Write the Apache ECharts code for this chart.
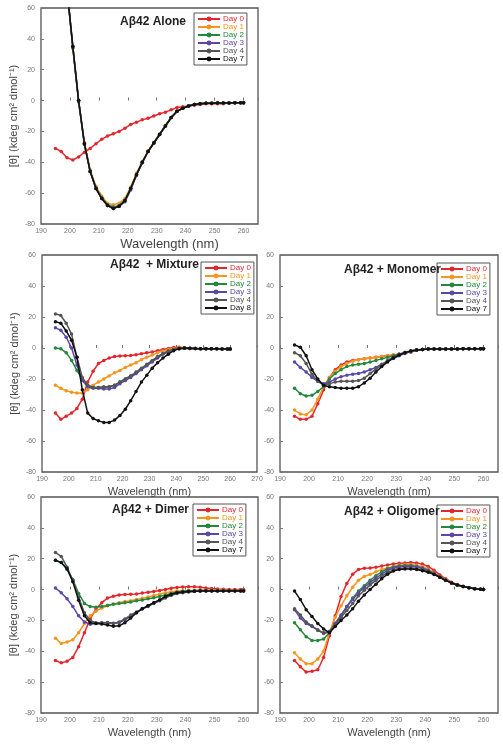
<!DOCTYPE html>
<html><head><meta charset="utf-8">
<script src="https://cdn.jsdelivr.net/npm/echarts@6/dist/echarts.min.js"></script>
<style>html,body{margin:0;padding:0;background:#fff}#c{width:503px;height:750px}</style>
</head><body><div id="c"></div>
<script>
// Wavelengths (nm)
const wl = [195,197,199,201,203,205,207,209,211,213,215,217,219,221,223,225,227,229,231,233,235,237,239,241,243,245,247,249,251,253,255,257,259,260];
const xTicks = [190,200,210,220,230,240,250,260,270];
const yTicks = [-80,-60,-40,-20,0,20,40,60];
const dayNames = ['Day 0','Day 1','Day 2','Day 3','Day 4','Day 7'];
const dayNamesMix = ['Day 0','Day 1','Day 2','Day 3','Day 4','Day 8'];

// Aβ42 Alone
const alone_d0 = [-31,-33,-37,-38.5,-36.5,-33.5,-31,-28,-25,-23,-21.5,-20,-18,-15.5,-14,-12.5,-11.5,-10,-8.5,-7.5,-6,-4.5,-4,-3.5,-3,-2.5,-2,-2,-2,-2,-1.5,-1.5,-1.5,-1.5];
const alone_d1 = [138,106,71,34,0,-27,-45,-55.5,-62,-66.5,-67.5,-66.5,-63.5,-56,-47,-39.5,-32.5,-27,-21.5,-16,-11,-7,-5,-3.5,-2.5,-2,-1.8,-1.7,-1.6,-1.5,-1.5,-1.4,-1.4,-1.4];
const alone_d2 = [142,110,73,34,-1,-28.5,-46,-56.5,-63,-67.5,-69,-68,-64.5,-57,-48,-40,-33,-27.5,-22,-16.5,-11,-7,-5,-3.5,-2.5,-2,-1.8,-1.7,-1.6,-1.5,-1.5,-1.4,-1.4,-1.4];
const alone_d3 = [140,108,72,35,0,-28,-46,-57,-63.5,-68,-69.5,-68.5,-65.5,-58,-48.5,-40.5,-33,-27.5,-22,-16.5,-11,-7,-5,-3.5,-2.5,-2,-1.8,-1.7,-1.6,-1.5,-1.5,-1.4,-1.4,-1.4];
const alone_d4 = [141,109,72,35,0,-28,-46,-57,-63.5,-68,-70,-68.5,-65,-57,-48,-40,-33,-27.5,-22,-16.5,-11,-7,-5,-3.5,-2.5,-2,-1.8,-1.7,-1.6,-1.5,-1.5,-1.4,-1.4,-1.4];
const alone_d7 = [140,108,72,35,0,-28,-46,-57,-63.5,-68,-70,-68.5,-65,-57,-48,-40,-33,-27.5,-22,-16.5,-11,-7,-5,-3.5,-2.5,-2,-1.8,-1.7,-1.6,-1.5,-1.5,-1.4,-1.4,-1.4];

// Aβ42 + Mixture
const mix_d0 = [-42,-46,-44,-42,-39,-33,-22,-15,-10,-8,-6.5,-5.5,-5.2,-5,-4.8,-4.3,-3.7,-3,-2.5,-1.8,-1,-0.3,0.3,0.5,0.2,-0.2,-0.4,-0.5,-0.5,-0.5,-0.5,-0.6,-0.6,-0.6];
const mix_d1 = [-24,-26,-27.5,-28.5,-29,-29,-27,-24,-22,-20,-18,-16,-14.5,-12.5,-11,-9.5,-7.5,-6,-4.5,-3,-2,-1,-0.5,0,0,-0.3,-0.4,-0.5,-0.5,-0.5,-0.5,-0.6,-0.6,-0.6];
const mix_d2 = [0,-0.5,-3,-8,-14.5,-20,-24,-25.5,-25.5,-25.5,-25,-24,-22,-20,-18,-16,-13.5,-11,-8.5,-6,-3.5,-2,-1,-0.3,0,-0.3,-0.4,-0.5,-0.5,-0.5,-0.5,-0.6,-0.6,-0.6];
const mix_d3 = [13,11.5,7,0,-11,-21,-25,-26,-26,-26.5,-26.5,-25.5,-23,-21,-19,-16.5,-14,-11.5,-9,-6.5,-4,-2.5,-1.2,-0.5,-0.2,-0.3,-0.4,-0.5,-0.5,-0.5,-0.5,-0.6,-0.6,-0.6];
const mix_d4 = [22,21,16,9,-6,-19,-24,-25.5,-25.5,-25,-25,-24,-22,-20,-18,-15.5,-13,-10.5,-8,-5.5,-3.5,-2,-1,-0.4,-0.2,-0.3,-0.4,-0.5,-0.5,-0.5,-0.5,-0.6,-0.6,-0.6];
const mix_d8 = [17,16,11,5,-6,-27,-42,-45.5,-47,-48,-48,-46.5,-43.5,-39.5,-34,-28,-22,-17.5,-13,-9.5,-6.5,-4,-1.7,-0.5,0,-0.2,-0.4,-0.5,-0.5,-0.5,-0.5,-0.6,-0.6,-0.6];

// Aβ42 + Monomer
const mono_d0 = [-44,-46,-46,-44,-36,-27,-19,-14,-11,-9,-8,-7.5,-7,-6.5,-6,-5.5,-5,-4.5,-4,-3,-2.5,-1.5,-1,-0.7,-0.7,-0.7,-0.7,-0.6,-0.6,-0.5,-0.5,-0.5,-0.5,-0.5];
const mono_d1 = [-40,-42.5,-43,-40,-33,-25,-19,-15,-12,-10,-8.5,-7.5,-7,-6.5,-6,-5.5,-5,-4.5,-4,-3.2,-2.5,-1.5,-1,-0.7,-0.7,-0.7,-0.7,-0.6,-0.6,-0.5,-0.5,-0.5,-0.5,-0.5];
const mono_d2 = [-26,-29.5,-31,-30.5,-28,-25,-20,-16.5,-14,-12,-11,-10.5,-10,-9,-8,-7,-6,-5,-4,-3.2,-2.5,-1.5,-1,-0.7,-0.7,-0.7,-0.7,-0.6,-0.6,-0.5,-0.5,-0.5,-0.5,-0.5];
const mono_d3 = [-9,-12.5,-15.5,-19,-21.5,-23,-22,-20,-18.5,-17.5,-17,-16.5,-15.5,-14,-12.5,-10.5,-8.5,-6.8,-5,-3.5,-2.3,-1.5,-1,-0.7,-0.7,-0.7,-0.7,-0.6,-0.6,-0.5,-0.5,-0.5,-0.5,-0.5];
const mono_d4 = [-3,-5,-10,-17,-21.5,-24,-23,-22,-21.5,-21.5,-21.5,-21,-19.5,-16.5,-13.5,-11,-8,-5.8,-4,-2.8,-1.8,-1.2,-0.9,-0.7,-0.7,-0.7,-0.7,-0.6,-0.6,-0.5,-0.5,-0.5,-0.5,-0.5];
const mono_d7 = [2,0.5,-5,-14,-20,-24,-25,-25.5,-26,-26,-26,-25,-22.5,-19.5,-15.5,-12,-9,-6.5,-4.5,-3,-2,-1.3,-1,-0.7,-0.7,-0.7,-0.7,-0.6,-0.6,-0.5,-0.5,-0.5,-0.5,-0.5];

// Aβ42 + Dimer
const dim_d0 = [-46,-47.5,-46.5,-44,-37,-28,-19,-12.5,-8.5,-5.5,-4.3,-3.5,-3.2,-3,-2.8,-2.3,-1.8,-1.2,-0.6,0,0.8,1.3,1.6,1.8,1.8,1.5,1,0.7,0.4,0.2,0,0,0,0];
const dim_d1 = [-31.5,-35,-34,-32.5,-28,-22,-17,-14,-12,-10.5,-9.3,-8.5,-7.8,-7.2,-6.5,-5.7,-4.8,-3.8,-3,-2,-1.4,-1,-0.8,-0.6,-0.5,-0.5,-0.5,-0.5,-0.5,-0.5,-0.5,-0.5,-0.5,-0.5];
const dim_d2 = [19,17.5,13,6.5,-2.5,-9,-11,-11.5,-11,-10.3,-9.5,-9,-8.5,-8,-7.3,-6.7,-6,-5.3,-4.5,-3.5,-2.5,-1.6,-1.1,-0.8,-0.7,-0.6,-0.6,-0.6,-0.6,-0.6,-0.6,-0.6,-0.6,-0.6];
const dim_d3 = [1,-2,-6,-11,-17,-21,-22.5,-22,-21.5,-21.3,-21.8,-21.5,-19.5,-17.5,-15,-12.5,-10.5,-8.5,-6.7,-5,-3.3,-2.2,-1.6,-1.2,-1,-0.9,-0.8,-0.8,-0.8,-0.8,-0.8,-0.8,-0.8,-0.8];
const dim_d4 = [24,21.5,14.5,6,-5,-15,-20,-21.5,-21.5,-21.5,-22,-21,-19,-16.5,-14.5,-12.5,-11,-9,-7.3,-5.5,-3.8,-2.6,-2,-1.5,-1.2,-1,-1,-1,-1,-1,-1,-1,-1,-1];
const dim_d7 = [19,17.5,13.5,5,-7,-17,-21.5,-22,-22.3,-23,-23.8,-23.5,-21.5,-18.5,-15,-12.5,-10.5,-8.5,-6.7,-4.5,-3,-2,-1.5,-1.2,-1.1,-1,-1,-1,-1,-1,-1,-1,-1,-1];

// Aβ42 + Oligomer
const olig_d0 = [-46,-50,-53.5,-53,-52,-44,-30,-17,-4.5,4,10,13,13.8,14,14.5,15.2,16,16.5,17,17.3,17.5,17.3,16.5,15,12.5,9.5,7,4.8,3.3,2,1.2,0.6,0.2,0];
const olig_d1 = [-41,-45,-48,-48,-45,-40,-28,-18,-10.5,-4,1.5,6,8.5,9.8,11.5,13,14,15,15.8,16.2,16.2,15.8,15,13.3,11,8.5,6.5,4.5,3.2,2,1.2,0.6,0.2,0];
const olig_d2 = [-21.5,-26,-30.5,-33,-33,-32,-28,-22,-17,-11,-5.5,-1,2.5,6,9,11.5,13.5,14.7,15.3,15.6,15.6,15,14,12.5,10.5,8,6,4.3,3,2,1.2,0.6,0.2,0];
const olig_d3 = [-13,-18.5,-22,-24,-26,-28.5,-27.5,-22,-16.5,-11,-6.5,-2,1.5,4.5,7.5,10,12.5,14,14.8,15.1,15.1,14.6,13.8,12.3,10.5,8,6,4.3,3,2,1.2,0.6,0.2,0];
const olig_d4 = [-12.5,-16.5,-21,-23.5,-26.5,-28,-27,-23,-18,-13.5,-9,-4,-0.5,3,6,8.8,11,12.8,13.6,14,14,13.5,12.8,11.8,10,8,6,4.3,3,2,1.2,0.6,0.2,0];
const olig_d7 = [-1,-6.5,-13,-17.5,-22,-25.5,-28,-24,-20,-16.5,-12.5,-7.5,-3.5,0,3.5,7,10,12,13,13.4,13.4,13,12.2,11.2,9.8,8,6,4.3,3,2,1.2,0.6,0.2,0];

const colors = ['#e3262d','#f7941e','#22883c','#5b47a8','#555555','#111111'];

const panels = [
  {title:'Aβ42 Alone', grid:{left:41,top:8,width:217,height:216}, xmax:265, yname:true, names:dayNames,
   data:[alone_d0,alone_d1,alone_d2,alone_d3,alone_d4,alone_d7], tpos:[120,16], lpos:[194,13], xnameSize:13, xnameShift:40},
  {title:'Aβ42  + Mixture', grid:{left:42,top:255,width:215,height:217}, xmax:270, yname:true, names:dayNamesMix,
   data:[mix_d0,mix_d1,mix_d2,mix_d3,mix_d4,mix_d8], tpos:[110,259], lpos:[201,262], xnameSize:11, xnameShift:0},
  {title:'Aβ42 + Monomer', grid:{left:280,top:255,width:218,height:217}, xmax:265, yname:false, names:dayNames,
   data:[mono_d0,mono_d1,mono_d2,mono_d3,mono_d4,mono_d7], tpos:[344,264], lpos:[437,263], xnameSize:11, xnameShift:0},
  {title:'Aβ42 + Dimer', grid:{left:41,top:497,width:217,height:216}, xmax:265, yname:true, names:dayNames,
   data:[dim_d0,dim_d1,dim_d2,dim_d3,dim_d4,dim_d7], tpos:[112,504], lpos:[193,504], xnameSize:11, xnameShift:0},
  {title:'Aβ42 + Oligomer', grid:{left:280,top:497,width:218,height:216}, xmax:265, yname:false, names:dayNames,
   data:[olig_d0,olig_d1,olig_d2,olig_d3,olig_d4,olig_d7], tpos:[344,506], lpos:[437,505], xnameSize:11, xnameShift:0}
];

const option = {animation:false, backgroundColor:'#fff', grid:[], xAxis:[], yAxis:[], series:[], title:[], legend:[]};
panels.forEach((p,i)=>{
  option.grid.push(Object.assign({show:true, borderColor:'#555', borderWidth:1.3, backgroundColor:'#fff'}, p.grid));
  option.xAxis.push({type:'value', gridIndex:i, min:190, max:p.xmax, interval:10,
    name:'Wavelength (nm)', nameLocation:'middle', nameGap:14,
    nameTextStyle:{fontSize:p.xnameSize, color:'#444', fontFamily:'Liberation Sans', padding:[0,0,0,p.xnameShift]},
    axisLine:{show:false}, splitLine:{show:false},
    axisTick:{inside:true, length:3, lineStyle:{color:'#777'}},
    axisLabel:{fontSize:7, color:'#777', margin:4, fontFamily:'Liberation Sans',
      formatter:v=> xTicks.includes(v) ? String(v) : ''}});
  option.yAxis.push({type:'value', gridIndex:i, min:yTicks[0], max:yTicks[yTicks.length-1], interval:20,
    name:p.yname ? '[θ] (kdeg cm² dmol⁻¹)' : '', nameLocation:'middle', nameGap:22,
    nameTextStyle:{fontSize:11, color:'#444', fontFamily:'Liberation Sans'},
    axisLine:{show:false}, splitLine:{show:false},
    axisTick:{inside:true, length:3, lineStyle:{color:'#777'}},
    axisLabel:{fontSize:7, color:'#777', margin:6, fontFamily:'Liberation Sans'}});
  option.title.push({text:p.title, left:p.tpos[0], top:p.tpos[1], padding:0,
    textStyle:{fontSize:12, fontWeight:'bold', color:'#222', fontFamily:'Liberation Sans'}});
  option.legend.push({left:p.lpos[0], top:p.lpos[1], orient:'vertical', itemGap:0,
    itemWidth:22, itemHeight:6, padding:[2,3,2,3], borderColor:'#555', borderWidth:1,
    backgroundColor:'#fff', selectedMode:false,
    textStyle:{fontSize:8, fontFamily:'Liberation Sans', padding:[0,0,0,-2]},
    data:p.names.map((n,k)=>({name:n, textStyle:{color:colors[k]}}))});
  p.data.forEach((vals,k)=>{
    option.series.push({type:'line', name:p.names[k], xAxisIndex:i, yAxisIndex:i,
      data:wl.map((w,j)=>[w, vals[j]]), symbol:'circle', symbolSize:3.5, clip:true,
      lineStyle:{width:1.5, color:colors[k]}, itemStyle:{color:colors[k]}, z:2+k});
  });
});
const chart = echarts.init(document.getElementById('c'), null, {renderer:'canvas'});
chart.setOption(option);
</script></body></html>
